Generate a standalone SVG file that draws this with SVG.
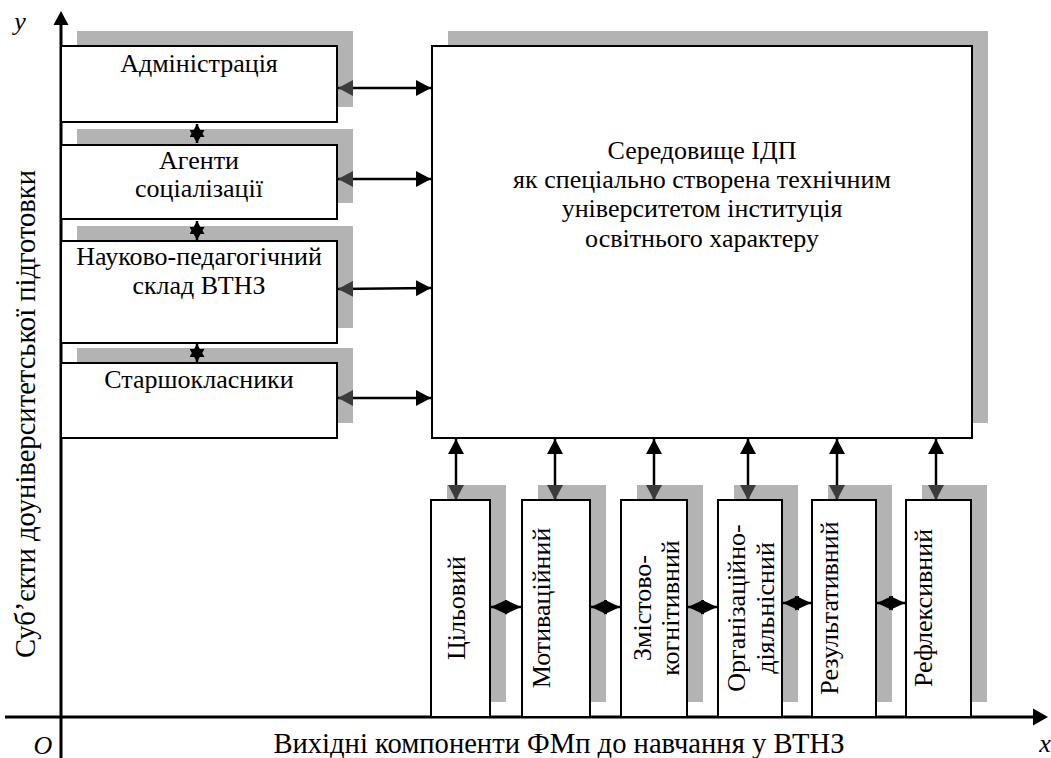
<svg xmlns="http://www.w3.org/2000/svg" width="1051" height="758" viewBox="0 0 1051 758">
<style>
  .sh { fill: #b3b3b3; }
  .bx { fill: #ffffff; stroke: #000000; stroke-width: 2; }
  .t { font-family: "Liberation Serif", "Times New Roman", serif; font-size: 26px; fill: #000; text-anchor: middle; }
  .al { font-size: 28.6px; }
  .it { font-family: "Liberation Serif", "Times New Roman", serif; font-size: 26px; font-style: italic; fill: #000; text-anchor: middle; }
  .ax { stroke: #000; stroke-width: 3; fill: none; }
  .cn { stroke: #000; stroke-width: 2.5; fill: none; }
  .hc { marker-start: url(#ag); marker-end: url(#ab); }
  .vc { marker-start: url(#ab); marker-end: url(#ag); }
  .st { marker-start: url(#sb); marker-end: url(#sb); }
  .dm { marker-start: url(#db); marker-end: url(#db); }
</style>
<defs>
  <marker id="ab" viewBox="0 0 15 16" refX="15" refY="8" markerWidth="15" markerHeight="16" markerUnits="userSpaceOnUse" orient="auto-start-reverse">
    <path d="M0,0 L15,8 L0,16 z" fill="#000"/>
  </marker>
  <marker id="ag" viewBox="0 0 15 16" refX="15" refY="8" markerWidth="15" markerHeight="16" markerUnits="userSpaceOnUse" orient="auto-start-reverse">
    <path d="M0,0 L15,8 L0,16 z" fill="#3c3c3c"/>
  </marker>
  <marker id="sb" viewBox="0 0 13 15" refX="13" refY="7.5" markerWidth="13" markerHeight="15" markerUnits="userSpaceOnUse" orient="auto-start-reverse">
    <path d="M0,0 L13,7.5 L0,15 z" fill="#000"/>
  </marker>
  <marker id="db" viewBox="0 0 16 15" refX="16" refY="7.5" markerWidth="16" markerHeight="15" markerUnits="userSpaceOnUse" orient="auto-start-reverse">
    <path d="M0,0 L16,7.5 L0,15 z" fill="#000"/>
  </marker>
</defs>

<!-- axes -->
<g id="axes">
  <line class="ax" x1="5" y1="717" x2="1034" y2="717"/>
  <path d="M1033,708.5 L1048,717 L1033,725.5 z" fill="#000"/>
  <line class="ax" x1="61" y1="758" x2="61" y2="24"/>
  <path d="M53.5,25 L61,11 L68.5,25 z" fill="#000"/>
  <text class="it" x="20" y="30">y</text>
  <text class="it" x="43" y="754">O</text>
  <text class="it" x="1045" y="752">x</text>
  <text class="t al" x="559" y="753">Вихідні компоненти ФМп до навчання у ВТНЗ</text>
  <text class="t al" transform="translate(35,414) rotate(-90)">Суб’єкти доуніверситетської підготовки</text>
</g>

<!-- left nodes -->
<g id="admin">
  <rect class="sh" x="77" y="31" width="276" height="76"/>
  <rect class="bx" x="61" y="46" width="276" height="76"/>
  <text class="t" x="199" y="72">Адміністрація</text>
</g>
<g id="agents">
  <rect class="sh" x="77" y="129" width="276" height="74"/>
  <rect class="bx" x="61" y="145" width="276" height="74"/>
  <text class="t" x="199" y="169">Агенти</text>
  <text class="t" x="199" y="197">соціалізації</text>
</g>
<g id="staff">
  <rect class="sh" x="77" y="226" width="276" height="102"/>
  <rect class="bx" x="61" y="241" width="276" height="102"/>
  <text class="t" x="199" y="265">Науково-педагогічний</text>
  <text class="t" x="199" y="294">склад ВТНЗ</text>
</g>
<g id="pupils">
  <rect class="sh" x="77" y="348" width="276" height="75"/>
  <rect class="bx" x="61" y="363" width="276" height="75"/>
  <text class="t" x="199" y="388">Старшокласники</text>
</g>

<!-- main node -->
<g id="environment">
  <rect class="sh" x="448" y="31" width="540" height="392"/>
  <rect class="bx" x="432" y="46" width="540" height="392"/>
  <text class="t" x="702" y="159">Середовище ІДП</text>
  <text class="t" x="702" y="188">як спеціально створена технічним</text>
  <text class="t" x="702" y="217">університетом інституція</text>
  <text class="t" x="702" y="247">освітнього характеру</text>
</g>

<!-- bottom nodes -->
<g id="c1">
  <rect class="sh" x="447" y="485" width="59" height="217"/>
  <rect class="bx" x="431" y="500" width="59" height="217"/>
  <text class="t" transform="translate(465,608) rotate(-90)">Цільовий</text>
</g>
<g id="c2">
  <rect class="sh" x="538" y="485" width="68" height="217"/>
  <rect class="bx" x="522" y="500" width="68" height="217"/>
  <text class="t" transform="translate(550,608) rotate(-90)">Мотиваційний</text>
</g>
<g id="c3">
  <rect class="sh" x="637" y="485" width="66" height="217"/>
  <rect class="bx" x="621" y="500" width="66" height="217"/>
  <text class="t" transform="translate(651,608) rotate(-90)">Змістово-</text>
  <text class="t" transform="translate(679,608) rotate(-90)">когнітивний</text>
</g>
<g id="c4">
  <rect class="sh" x="734" y="485" width="64" height="217"/>
  <rect class="bx" x="718" y="500" width="64" height="217"/>
  <text class="t" transform="translate(745,608) rotate(-90)">Організаційно-</text>
  <text class="t" transform="translate(774,608) rotate(-90)">діяльнісний</text>
</g>
<g id="c5">
  <rect class="sh" x="828" y="485" width="64" height="217"/>
  <rect class="bx" x="812" y="500" width="64" height="217"/>
  <text class="t" transform="translate(838,608) rotate(-90)">Результативний</text>
</g>
<g id="c6">
  <rect class="sh" x="922" y="485" width="65" height="217"/>
  <rect class="bx" x="906" y="500" width="65" height="217"/>
  <text class="t" transform="translate(932,608) rotate(-90)">Рефлексивний</text>
</g>

<!-- connectors -->
<g id="connectors">
  <line class="cn hc" x1="338" y1="88" x2="431" y2="88"/>
  <line class="cn hc" x1="338" y1="179" x2="431" y2="179"/>
  <line class="cn hc" x1="338" y1="289" x2="431" y2="288"/>
  <line class="cn hc" x1="338" y1="398" x2="431" y2="398"/>

  <line class="cn st" x1="197" y1="124" x2="197" y2="143"/>
  <line class="cn st" x1="197" y1="221" x2="197" y2="240"/>
  <line class="cn st" x1="197" y1="344" x2="197" y2="362"/>

  <line class="cn vc" x1="456" y1="439" x2="456" y2="500"/>
  <line class="cn vc" x1="555" y1="439" x2="555" y2="500"/>
  <line class="cn vc" x1="654" y1="439" x2="654" y2="500"/>
  <line class="cn vc" x1="748" y1="439" x2="748" y2="500"/>
  <line class="cn vc" x1="837" y1="439" x2="837" y2="500"/>
  <line class="cn vc" x1="936" y1="439" x2="936" y2="500"/>

  <line class="cn dm" x1="491" y1="607" x2="521" y2="607"/>
  <line class="cn dm" x1="591" y1="607" x2="620" y2="607"/>
  <line class="cn dm" x1="688" y1="607" x2="717" y2="607"/>
  <line class="cn dm" x1="783" y1="603" x2="811" y2="603"/>
  <line class="cn dm" x1="877" y1="603" x2="905" y2="603"/>
</g>
</svg>
